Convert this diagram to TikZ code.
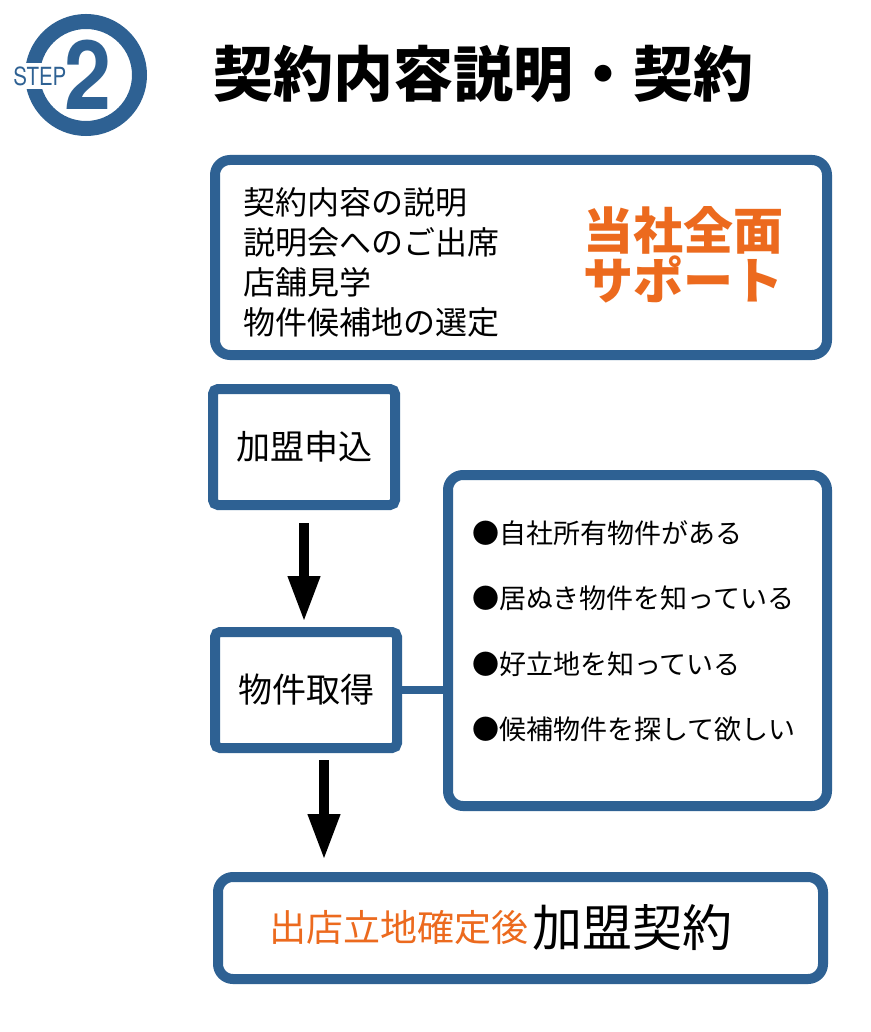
\documentclass[tikz,border=0pt]{standalone}
\usepackage{fontspec}
\setmainfont{Noto Sans CJK JP}
\newfontfamily\logofont{TeX Gyre Heros}
\usetikzlibrary{arrows.meta,positioning}

\definecolor{stepblue}{HTML}{2E6193}
\definecolor{supportorange}{HTML}{EC6A1E}

\begin{document}
\begin{tikzpicture}[x=1pt, y=-1pt,
  box/.style={draw=stepblue, line width=10pt, fill=white, rounded corners=15pt, inner sep=0pt},
  smallbox/.style={box, rounded corners=5pt, minimum width=182pt, minimum height=116pt, font=\fontsize{34}{40}\selectfont},
  body/.style={align=left, inner sep=0pt, font=\fontsize{32}{40}\selectfont},
  caselist/.style={align=left, inner sep=0pt, font=\fontsize{27}{65.5}\selectfont},
  arr/.style={-{Triangle[width=30pt,length=46pt]}, line width=10pt},
  link/.style={draw=stepblue, line width=8pt}
]
\fill[white] (0,0) rectangle (870,1032);
\useasboundingbox (0,0) rectangle (870,1032);

% step badge
\node[circle, draw=stepblue, line width=15pt, minimum size=107pt, inner sep=0pt] (ring) at (86,75) {};
\node[fill=white, inner sep=3pt, text=stepblue, font=\logofont\fontsize{25}{25}\selectfont, xscale=0.82, anchor=east] (steplabel) at (69,76) {STEP};
\node[inner sep=0pt, text=stepblue, font=\logofont\bfseries\fontsize{96}{96}\selectfont, xscale=0.88] (stepnum) at (88,75) {2};

\node[anchor=west, inner sep=0pt, font=\bfseries\fontsize{60}{60}\selectfont] (title) at (213,74) {契約内容説明・契約};

% support box
\node[box, minimum width=612pt, minimum height=195pt] (support) at (521,257.5) {};
\node[body, anchor=west] (services) at (243,262) {契約内容の説明\\説明会へのご出席\\店舗見学\\物件候補地の選定};
\node[align=center, inner sep=0pt, text=supportorange, font=\bfseries\fontsize{50}{50}\selectfont] (fullsupport) at (683,255) {当社全面\\サポート};

% flow
\node[smallbox] (apply) at (304,447) {加盟申込};
\node[smallbox] (acquire) at (306,690) {物件取得};
\node[box, minimum width=379pt, minimum height=331pt] (cases) at (637.5,640.5) {};
\node[caselist, anchor=west] (caselines) at (472,631) {●自社所有物件がある\\●居ぬき物件を知っている\\●好立地を知っている\\●候補物件を探して欲しい};
\node[box, minimum width=605pt, minimum height=102pt] (contract) at (520.5,928) {};
\node[anchor=east, inner sep=0pt, text=supportorange, font=\fontsize{37}{37}\selectfont] (condition) at (529,928) {出店立地確定後};
\node[right=3pt of condition, inner sep=0pt, font=\fontsize{50}{50}\selectfont] (signing) {加盟契約};

\draw[link] (acquire.east) -- (acquire.east -| cases.west);
\draw[arr, shorten <=13pt, shorten >=5pt] (apply.south) -- (apply.south |- acquire.north);
\coordinate (drop) at ([xshift=18pt]acquire.south);
\draw[arr, shorten <=7pt, shorten >=12pt] (drop) -- (drop |- contract.north);

\end{tikzpicture}
\end{document}
